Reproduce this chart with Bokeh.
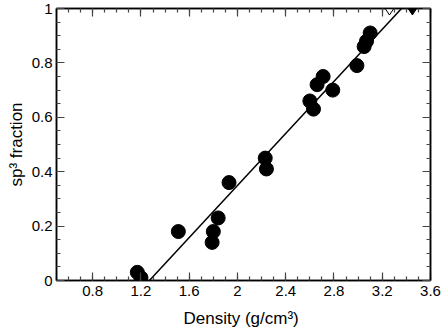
import numpy as np
from bokeh.plotting import figure
from bokeh.models import FixedTicker, LinearAxis, Range1d
from bokeh.embed import file_html
from bokeh.resources import INLINE

# data
density = [1.17, 1.20, 1.51, 1.79, 1.80, 1.84, 1.93, 2.23, 2.24, 2.60, 2.63,
           2.66, 2.71, 2.79, 2.99, 3.05, 3.07, 3.10]
sp3 = [0.03, 0.01, 0.18, 0.14, 0.18, 0.23, 0.36, 0.45, 0.41, 0.66, 0.63,
       0.72, 0.75, 0.70, 0.79, 0.86, 0.88, 0.91]
open_x = [3.26]
open_y = [1.0]
filled_x = [3.45]
filled_y = [1.0]
fit_x = [1.27, 3.36]
fit_y = [0.0, 1.0]
x_ticks = [0.8, 1.2, 1.6, 2.0, 2.4, 2.8, 3.2, 3.6]
x_labels = ["0.8", "1.2", "1.6", "2", "2.4", "2.8", "3.2", "3.6"]
y_ticks = [0.0, 0.2, 0.4, 0.6, 0.8, 1.0]
y_labels = ["0", "0.2", "0.4", "0.6", "0.8", "1"]
x_minor = [round(0.5 + 0.1 * i, 2) for i in range(32)]
y_minor = [round(0.05 * i, 2) for i in range(21)]

FONT = "Liberation Sans"

p = figure(frame_width=374, frame_height=272, output_backend="svg",
           toolbar_location=None,
           x_range=Range1d(0.5, 3.6), y_range=Range1d(0, 1),
           min_border_left=56, min_border_right=12, min_border_top=8,
           min_border_bottom=52)
p.grid.visible = False
p.outline_line_color = "black"
p.outline_line_width = 1.5
p.background_fill_color = "white"
p.border_fill_color = "white"

xt = FixedTicker(ticks=x_ticks, minor_ticks=x_minor)
yt = FixedTicker(ticks=y_ticks, minor_ticks=y_minor)


def style(ax, ticker, labels, show):
    ax.ticker = ticker
    ax.axis_line_color = "black"
    ax.axis_line_width = 1.5
    ax.major_tick_in = 8
    ax.major_tick_out = 0
    ax.minor_tick_in = 4
    ax.minor_tick_out = 0
    ax.major_tick_line_color = "#444444"
    ax.minor_tick_line_color = "#444444"
    ax.major_tick_line_width = 1.2
    ax.minor_tick_line_width = 1.2
    ax.major_label_text_font = FONT
    ax.major_label_text_font_size = "15px"
    ax.major_label_text_color = "black"
    if show:
        ax.major_label_overrides = {t: l for t, l in zip(ticker.ticks, labels)}
        ax.axis_label_text_font = FONT
        ax.axis_label_text_font_size = "17px"
        ax.axis_label_text_font_style = "normal"
        ax.axis_label_text_color = "black"
    else:
        ax.major_label_overrides = {t: "" for t in ticker.ticks}
        ax.major_label_standoff = 0


style(p.xaxis[0], xt, x_labels, True)
style(p.yaxis[0], yt, y_labels, True)
p.xaxis[0].axis_label = "Density  (g/cm³)"
p.yaxis[0].axis_label = "sp³ fraction"
p.xaxis[0].major_label_standoff = 5
p.yaxis[0].major_label_standoff = 4
p.xaxis[0].axis_label_standoff = 10
p.yaxis[0].axis_label_standoff = 3

top = LinearAxis()
right = LinearAxis()
style(top, FixedTicker(ticks=x_ticks, minor_ticks=x_minor), x_labels, False)
style(right, FixedTicker(ticks=y_ticks, minor_ticks=y_minor), y_labels, False)
p.add_layout(top, "above")
p.add_layout(right, "right")

p.line(fit_x, fit_y, line_color="black", line_width=1.5)
p.scatter(density, sp3, marker="circle", size=14, fill_color="black",
          line_color="black")
p.scatter(open_x, open_y, marker="diamond", size=13, fill_color="white",
          line_color="black", line_width=1)
p.scatter(filled_x, filled_y, marker="diamond", size=13, fill_color="black",
          line_color="black")

open("out.html", "w").write(file_html(p, INLINE))
